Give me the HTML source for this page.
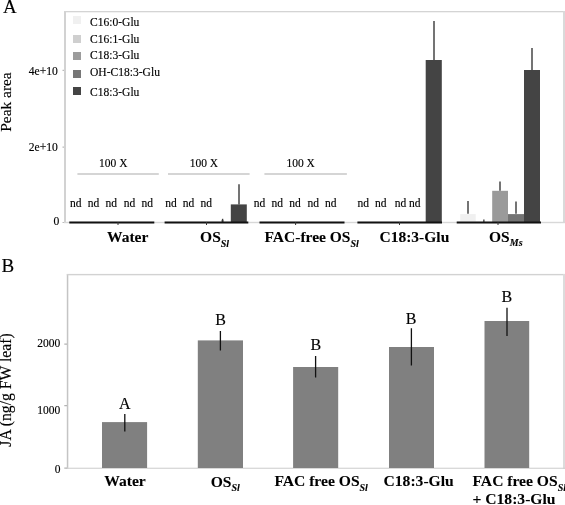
<!DOCTYPE html>
<html><head><meta charset="utf-8">
<style>
html,body{margin:0;padding:0;background:#fff;}
body{width:565px;height:505px;overflow:hidden;}
svg{display:block;will-change:transform;}
text{font-family:"Liberation Serif",serif;fill:#000;stroke:#000;stroke-width:0.15px;}
.b text{stroke-width:0.1px;}
.b{font-weight:bold;}
.sub{font-weight:bold;font-style:italic;font-size:10px;}
</style></head><body>
<svg width="565" height="505" viewBox="0 0 565 505">
<!-- ================= PANEL A ================= -->
<text x="3" y="13" font-size="19">A</text>
<!-- frame -->
<rect x="64" y="11" width="2" height="212" fill="#d2d2d2"/>
<rect x="64" y="11" width="501" height="1.3" fill="#d4d4d4"/>
<rect x="563" y="11" width="2" height="212" fill="#dadada"/>
<rect x="64" y="221.8" width="501" height="1.4" fill="#d8d8d8"/>
<!-- y ticks -->
<g stroke="#bbb" stroke-width="1.2">
  <path d="M62.5 70.3 H64 M62.5 147.2 H64 M62.5 222.5 H64"/>
</g>
<g font-size="11.6" text-anchor="end">
  <text x="57.8" y="75">4e+10</text>
  <text x="57.8" y="151">2e+10</text>
  <text x="59.3" y="225.2">0</text>
</g>
<text transform="translate(11.2,102) rotate(-90)" font-size="15.4" text-anchor="middle">Peak area</text>
<!-- legend -->
<rect x="73" y="16" width="8" height="8" fill="#f0f0f0"/>
<rect x="73" y="35" width="8" height="8" fill="#cfcfcf"/>
<rect x="73" y="52" width="8" height="8" fill="#9c9c9c"/>
<rect x="73" y="70" width="8" height="8" fill="#777777"/>
<rect x="73" y="87" width="8" height="8" fill="#444444"/>
<g font-size="11.55">
  <text x="90" y="26">C16:0-Glu</text>
  <text x="90" y="42.5">C16:1-Glu</text>
  <text x="90" y="59">C18:3-Glu</text>
  <text x="90" y="76">OH-C18:3-Glu</text>
  <text x="90" y="96">C18:3-Glu</text>
</g>
<!-- 100 X lines -->
<g stroke="#c8c8c8" stroke-width="1.5">
  <path d="M77.4 174 H158.8 M168 174 H249.6 M264.4 174 H346.9"/>
</g>
<g font-size="11.5" text-anchor="middle">
  <text x="113.3" y="166.6">100 X</text>
  <text x="203.9" y="166.6">100 X</text>
  <text x="300.7" y="166.6">100 X</text>
</g>
<!-- nd labels -->
<g font-size="11.5">
  <text x="70.1" y="206.6">nd</text><text x="87.8" y="206.5">nd</text><text x="105.4" y="206.5">nd</text><text x="123.7" y="206.5">nd</text><text x="141.4" y="206.5">nd</text>
  <text x="165.2" y="206.5">nd</text><text x="182.8" y="206.5">nd</text><text x="200.5" y="206.5">nd</text>
  <text x="253.8" y="206.5">nd</text><text x="271.4" y="206.5">nd</text><text x="289.3" y="206.5">nd</text><text x="307.5" y="206.5">nd</text><text x="325" y="206.5">nd</text>
  <text x="357.6" y="206.5">nd</text><text x="375" y="206.5">nd</text><text x="394.8" y="206.5">nd</text><text x="409" y="206.5">nd</text>
</g>
<!-- bars A -->
<rect x="230.8" y="204.4" width="16" height="17.6" fill="#444"/>
<rect x="221.5" y="220" width="2" height="2" fill="#777"/>
<rect x="425.7" y="60" width="16.1" height="162" fill="#444"/>
<rect x="460.2" y="214.1" width="15.5" height="8" fill="#f0f0f0"/>
<rect x="483.1" y="219.5" width="1.5" height="3" fill="#555"/>
<rect x="492.2" y="190.8" width="15.8" height="31.2" fill="#9a9a9a"/>
<rect x="508" y="214.1" width="16.2" height="8" fill="#747474"/>
<rect x="524" y="70" width="16" height="152" fill="#444"/>
<g stroke="#3a3a3a" stroke-width="1.4">
  <path d="M239 184.3 V204.4 M434 21 V60 M532 48 V70"/>
  <path d="M468 201 V213.7 M500 181.4 V190.8 M516 201.6 V213.7"/>
  <path d="M222.6 218.8 V222"/>
</g>
<!-- zero line segments -->
<g stroke="#111" stroke-width="1.8">
  <path d="M69.3 222.5 H154.3 M164.6 222.5 H248.3 M259.5 222.5 H344.5 M357.4 222.5 H442 M456.7 222.5 H541"/>
</g>
<g stroke="#333" stroke-width="1">
  <path d="M118 222 V225 M206.5 222 V225 M295.6 222 V225 M399.5 222 V225 M498 222 V225"/>
</g>
<!-- x labels A -->
<g font-size="15.5" class="b" text-anchor="middle">
  <text x="127.7" y="241.8">Water</text>
  <text x="214.6" y="242">OS<tspan class="sub" dy="4.5">Sl</tspan></text>
  <text x="311.7" y="242">FAC-free OS<tspan class="sub" dy="4.5">Sl</tspan></text>
  <text x="414.4" y="241.6">C18:3-Glu</text>
  <text x="505.8" y="241.6">OS<tspan class="sub" dy="4.5">Ms</tspan></text>
</g>

<!-- ================= PANEL B ================= -->
<text x="1.4" y="272" font-size="19">B</text>
<rect x="66.8" y="274" width="1.5" height="195" fill="#c4c4c4"/>
<rect x="66.8" y="273.9" width="498.2" height="1.4" fill="#d2d2d2"/>
<rect x="563" y="274" width="2" height="195" fill="#dcdcdc"/>
<rect x="66.8" y="467.7" width="498.2" height="1.1" fill="#d0d0d0"/>
<g stroke="#b4b4b4" stroke-width="1.3">
  <path d="M64.3 344.2 H67 M64.3 405.6 H67 M64.3 468.2 H67"/>
</g>
<g font-size="11.5" text-anchor="end">
  <text x="60.2" y="347.3">2000</text>
  <text x="60.2" y="414">1000</text>
  <text x="60.6" y="472.5">0</text>
</g>
<text font-size="15.7" transform="translate(10.5,390) rotate(-90)" text-anchor="middle">JA (ng/g FW leaf)</text>
<g fill="#808080">
  <rect x="102" y="422.1" width="45.1" height="45.9"/>
  <rect x="197.8" y="340.4" width="45.2" height="127.6"/>
  <rect x="293.1" y="367" width="45.1" height="101"/>
  <rect x="389" y="347" width="45" height="121"/>
  <rect x="484.5" y="321" width="44.7" height="147"/>
</g>
<g stroke="#111" stroke-width="1.3">
  <path d="M124.8 413.9 V431.5 M220.4 330.9 V350.6 M315.6 356.1 V377.5 M411.4 328.2 V365.6 M507 307.8 V336.1"/>
</g>
<g font-size="16">
  <text x="118.9" y="408.5">A</text>
  <text x="215.2" y="325.4">B</text>
  <text x="310.4" y="350.2">B</text>
  <text x="405.7" y="323.5">B</text>
  <text x="501.6" y="302.2">B</text>
</g>
<g font-size="15.6" class="b">
  <text x="124.95" y="486.4" text-anchor="middle">Water</text>
  <text x="225.3" y="486.5" text-anchor="middle">OS<tspan class="sub" dy="4.5">Sl</tspan></text>
  <text x="321.15" y="486.4" text-anchor="middle">FAC free OS<tspan class="sub" dy="4.5">Sl</tspan></text>
  <text x="418.65" y="486.2" text-anchor="middle">C18:3-Glu</text>
  <text x="472.5" y="486.3">FAC free OS<tspan class="sub" dy="4.5">Sl</tspan></text>
  <text x="472.5" y="504">+ C18:3-Glu</text>
</g>
</svg>
</body></html>
